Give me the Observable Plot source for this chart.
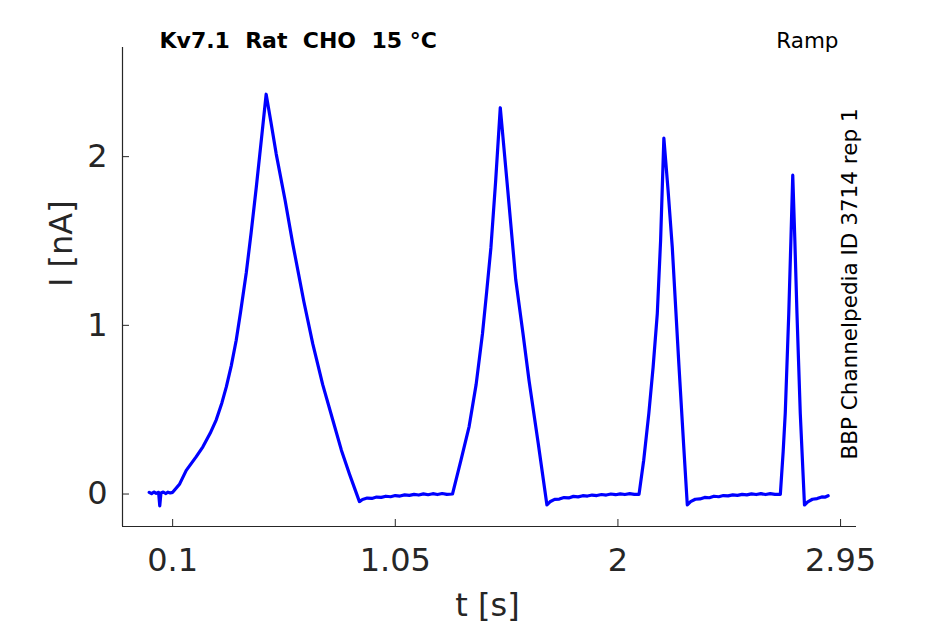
<!DOCTYPE html>
<html>
<head>
<meta charset="utf-8">
<script src="https://cdn.jsdelivr.net/npm/d3@7"></script>
<script src="https://cdn.jsdelivr.net/npm/@observablehq/plot@0.6"></script>
<style>
  html, body { margin: 0; padding: 0; background: #fff; }
  #chart svg { display: block; }
</style>
</head>
<body>
<div id="chart"></div>
<script>
// ---- data ----
const timeS = [
  0.000, 0.010, 0.020, 0.030, 0.040, 0.045, 0.050, 0.060, 0.070, 0.080, 0.090, 0.100,
  0.130, 0.158, 0.200, 0.229, 0.260, 0.286, 0.310, 0.329, 0.350, 0.371, 0.390, 0.414, 0.435, 0.457, 0.480, 0.499,
  0.520, 0.542, 0.580, 0.613, 0.660, 0.698, 0.740, 0.783, 0.820, 0.854, 0.880, 0.897,
  0.910, 0.930, 0.950, 0.970, 0.990, 1.010, 1.030, 1.050, 1.070, 1.090, 1.110, 1.130, 1.150, 1.170, 1.190, 1.210, 1.230, 1.250, 1.270, 1.294,
  1.330, 1.365, 1.395, 1.422, 1.440, 1.458, 1.478, 1.498,
  1.530, 1.564, 1.595, 1.621, 1.660, 1.697,
  1.710, 1.730, 1.750, 1.770, 1.790, 1.810, 1.830, 1.850, 1.870, 1.890, 1.910, 1.930, 1.950, 1.970, 1.990, 2.010, 2.030, 2.050, 2.070, 2.090,
  2.110, 2.132, 2.150, 2.168, 2.182, 2.196,
  2.214, 2.232, 2.260, 2.280, 2.296,
  2.310, 2.330, 2.350, 2.370, 2.390, 2.410, 2.430, 2.450, 2.470, 2.490, 2.510, 2.530, 2.550, 2.570, 2.590, 2.610, 2.630, 2.650, 2.670, 2.693,
  2.705, 2.714, 2.729, 2.738, 2.746,
  2.755, 2.764, 2.778, 2.796,
  2.810, 2.830, 2.850, 2.870, 2.885, 2.897
];
const currentNA = [
  0.010, 0.002, 0.012, 0.004, 0.010, -0.070, 0.006, 0.012, 0.003, 0.011, 0.006, 0.010,
  0.060, 0.140, 0.220, 0.280, 0.360, 0.440, 0.540, 0.635, 0.760, 0.910, 1.080, 1.310, 1.550, 1.820, 2.120, 2.370,
  2.200, 2.015, 1.740, 1.480, 1.140, 0.890, 0.650, 0.440, 0.260, 0.120, 0.020, -0.045,
  -0.032, -0.024, -0.026, -0.018, -0.020, -0.013, -0.016, -0.009, -0.012, -0.005, -0.008, -0.002, -0.006, 0.001, -0.004, 0.002, -0.003, 0.003, -0.002, 0.000,
  0.200, 0.400, 0.650, 0.950, 1.200, 1.460, 1.850, 2.290,
  1.800, 1.270, 0.950, 0.670, 0.300, -0.065,
  -0.046, -0.032, -0.030, -0.021, -0.023, -0.014, -0.017, -0.010, -0.012, -0.006, -0.009, -0.003, -0.006, 0.000, -0.004, 0.001, -0.003, 0.002, -0.002, -0.002,
  0.200, 0.480, 0.750, 1.070, 1.500, 2.110,
  1.800, 1.460, 0.770, 0.300, -0.065,
  -0.045, -0.031, -0.029, -0.020, -0.022, -0.013, -0.016, -0.009, -0.011, -0.005, -0.008, -0.002, -0.005, 0.001, -0.003, 0.002, -0.003, 0.002, -0.002, -0.002,
  0.250, 0.480, 1.070, 1.500, 1.890,
  1.500, 1.070, 0.480, -0.065,
  -0.046, -0.031, -0.027, -0.017, -0.018, -0.010
];
const xTicks = [0.1, 1.05, 2, 2.95];
const xTickLabels = ["0.1", "1.05", "2", "2.95"];
const yTicks = [0, 1, 2];
const yTickLabels = ["0", "1", "2"];
const xDomain = [-0.114, 3.018];
const yDomain = [-0.1925, 2.647];
const titleText = "Kv7.1\u00a0\u00a0Rat\u00a0\u00a0CHO\u00a0\u00a015\u00a0°C";
const protocolText = "Ramp";
const sourceText = "BBP Channelpedia ID 3714 rep 1";
const xLabel = "t [s]";
const yLabel = "I [nA]";

const trace = timeS.map((t, i) => ({t, i: currentNA[i]}));
const font = "'DejaVu Sans', sans-serif";
const ink = "#262626";

const W = 945, H = 624, ML = 122, MR = 89, MT = 47, MB = 98;
const frameW = W - ML - MR, frameH = H - MT - MB, tickLen = 7;

const chart = Plot.plot({
  width: W,
  height: H,
  marginLeft: ML,
  marginRight: MR,
  marginTop: MT,
  marginBottom: MB,
  x: {domain: xDomain},
  y: {domain: yDomain},
  style: {fontFamily: font, color: ink, background: "#fff", overflow: "visible"},
  marks: [
    Plot.axisX({ticks: xTicks, tickFormat: d => xTickLabels[xTicks.indexOf(d)], tickSize: 0, tickPadding: 22,
      fontSize: 32, label: null}),
    Plot.axisY({ticks: yTicks, tickFormat: d => yTickLabels[yTicks.indexOf(d)], tickSize: 0, tickPadding: 15,
      fontSize: 32, label: null}),
    Plot.tickX(xTicks, {x: d => d, insetTop: frameH - tickLen, stroke: ink}),
    Plot.tickY(yTicks, {y: d => d, insetRight: frameW - tickLen, stroke: ink}),
    Plot.ruleX([xDomain[0]], {stroke: ink, strokeWidth: 1.2}),
    Plot.ruleY([yDomain[0]], {stroke: ink, strokeWidth: 1.2}),
    Plot.line(trace, {x: "t", y: "i", stroke: "#0000ff", strokeWidth: 3.2, strokeLinejoin: "round"}),
    Plot.text([xLabel], {frameAnchor: "bottom", lineAnchor: "bottom", dx: -2, dy: 89, fontSize: 32, fill: ink}),
    Plot.text([yLabel], {frameAnchor: "left", lineAnchor: "bottom", dx: -51, dy: 0, rotate: -90, fontSize: 32, fill: ink}),
    Plot.text([titleText], {frameAnchor: "top-left", textAnchor: "start", lineAnchor: "bottom", dx: 37, dy: 0,
      fontSize: 22, fontWeight: "bold", fill: "#000"}),
    Plot.text([protocolText], {frameAnchor: "top-right", textAnchor: "end", lineAnchor: "bottom", dx: -18, dy: 0,
      fontSize: 21.5, fill: "#000"}),
    Plot.text([sourceText], {frameAnchor: "right", rotate: -90, textAnchor: "middle", lineAnchor: "middle", dx: -6, dy: -3,
      fontSize: 21.5, fill: "#000"})
  ]
});
document.getElementById("chart").appendChild(chart);
</script>
</body>
</html>
